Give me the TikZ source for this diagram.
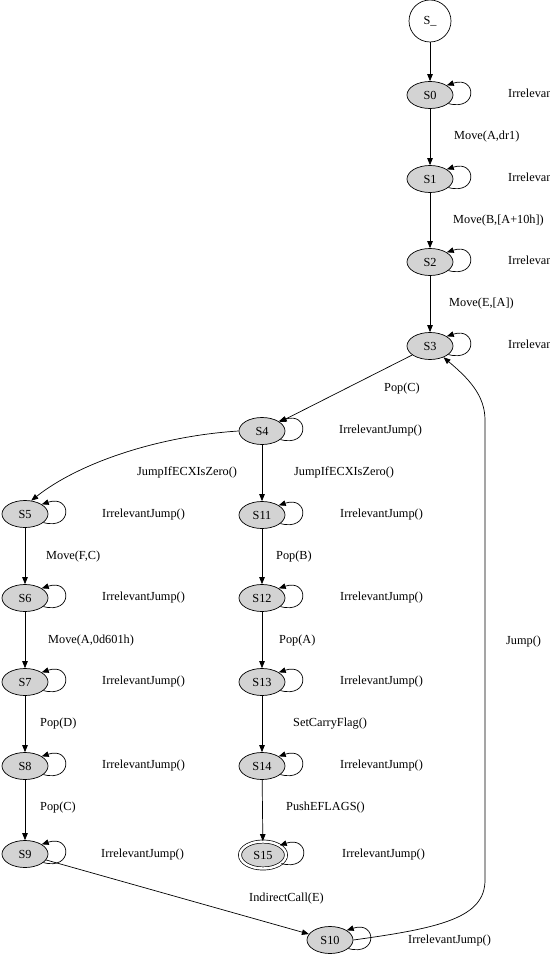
\documentclass[tikz,border=0pt]{standalone}
\usepackage{fontspec}
\setmainfont{Liberation Serif}
\usepackage{tikz}
\usetikzlibrary{shapes.geometric,arrows.meta}
\definecolor{stategray}{HTML}{D3D3D3}

\tikzset{
  every node/.style={font=\fontsize{12.3}{14}\selectfont},
  state/.style={ellipse, draw, fill=stategray, line width=0.7pt,
    minimum width=46pt, minimum height=27pt, inner sep=0pt},
  start/.style={circle, draw, line width=0.7pt, minimum size=42pt, inner sep=0pt},
  accept/.style={state, double, double distance=2.4pt},
  edge/.style={line width=0.7pt, -{Triangle[length=7pt,width=5.5pt]}},
  lbl/.style={anchor=west, inner sep=0pt}
}

\begin{document}
\begin{tikzpicture}[x=1pt, y=-1pt]
    \useasboundingbox (0,0) rectangle (549,957);
    \clip (0,0) rectangle (549,957);

    % states
    \node[start] (sinit) at (430,21) {S\_};
    \node[state] (s0) at (430,95) {S0};
    \node[state] (s1) at (430,179) {S1};
    \node[state] (s2) at (430,262) {S2};
    \node[state] (s3) at (430,346) {S3};
    \node[state] (s4) at (262,431) {S4};
    \node[state] (s5) at (25,514) {S5};
    \node[state] (s6) at (25,598) {S6};
    \node[state] (s7) at (25,682) {S7};
    \node[state] (s8) at (25,766) {S8};
    \node[state] (s9) at (25,854) {S9};
    \node[state] (s11) at (262,515) {S11};
    \node[state] (s12) at (262,598) {S12};
    \node[state] (s13) at (262,682) {S13};
    \node[state] (s14) at (262,766) {S14};
    \node[accept] (s15) at (263,855) {S15};
    \node[state] (s10) at (330,940) {S10};

    % transitions
    \draw[edge] (sinit) -- (s0);
    \draw[edge] (s0) -- (s1);
    \draw[edge] (s1) -- (s2);
    \draw[edge] (s2) -- (s3);
    \draw[edge] (s3) -- (s4);
    \draw[edge] (s4.west) .. controls (160,436) and (80,462) .. (s5.65);
    \draw[edge] (s4) -- (s11);
    \draw[edge] (s5) -- (s6);
    \draw[edge] (s6) -- (s7);
    \draw[edge] (s7) -- (s8);
    \draw[edge] (s8) -- (s9);
    \draw[edge] (s11) -- (s12);
    \draw[edge] (s12) -- (s13);
    \draw[edge] (s13) -- (s14);
    \draw[edge] (s14) -- (s15);
    \draw[edge] (s9) -- (s10);
    \draw[edge] (s10.east) .. controls (440,928) and (485,918) .. (485,880)
      -- (485,420) .. controls (485,395) and (468,378) .. (s3.-40);

    % self loops
    \foreach \s in {s0,s1,s2,s3,s4,s5,s6,s7,s8,s9,s11,s12,s13,s14,s15,s10}
      \draw[edge] (\s.-25) .. controls +(30,8) and +(30,-10) .. (\s.30);

    % edge labels
    \node[lbl] (lmove1) at (454,137) {Move(A,dr1)};
    \node[lbl] (lmove2) at (453,221) {Move(B,[A+10h])};
    \node[lbl] (lmove3) at (449,304) {Move(E,[A])};
    \node[lbl] (lpop1) at (384,389) {Pop(C)};
    \node[lbl] (ljmp1) at (137,472) {JumpIfECXIsZero()};
    \node[lbl] (ljmp2) at (294,472) {JumpIfECXIsZero()};
    \node[lbl] (lmove4) at (46,557) {Move(F,C)};
    \node[lbl] (lmove5) at (48,641) {Move(A,0d601h)};
    \node[lbl] (lpop2) at (40,724) {Pop(D)};
    \node[lbl] (lpop3) at (40,808) {Pop(C)};
    \node[lbl] (lpop4) at (276,557) {Pop(B)};
    \node[lbl] (lpop5) at (279,641) {Pop(A)};
    \node[lbl] (lcarry) at (293,724) {SetCarryFlag()};
    \node[lbl] (lpush) at (286,808) {PushEFLAGS()};
    \node[lbl] (lcall) at (249,899) {IndirectCall(E)};
    \node[lbl] (ljump) at (506,642) {Jump()};

    % loop labels
    \node[lbl] (lirr0) at (508,95) {IrrelevantJump()};
    \node[lbl] (lirr1) at (508,179) {IrrelevantJump()};
    \node[lbl] (lirr2) at (508,262) {IrrelevantJump()};
    \node[lbl] (lirr3) at (508,346) {IrrelevantJump()};
    \node[lbl] (lirr4) at (339,431) {IrrelevantJump()};
    \node[lbl] (lirr5) at (102,515) {IrrelevantJump()};
    \node[lbl] (lirr6) at (102,598) {IrrelevantJump()};
    \node[lbl] (lirr7) at (102,682) {IrrelevantJump()};
    \node[lbl] (lirr8) at (102,766) {IrrelevantJump()};
    \node[lbl] (lirr9) at (101,855) {IrrelevantJump()};
    \node[lbl] (lirr11) at (340,515) {IrrelevantJump()};
    \node[lbl] (lirr12) at (340,598) {IrrelevantJump()};
    \node[lbl] (lirr13) at (340,682) {IrrelevantJump()};
    \node[lbl] (lirr14) at (340,766) {IrrelevantJump()};
    \node[lbl] (lirr15) at (342,855) {IrrelevantJump()};
    \node[lbl] (lirr10) at (408,941) {IrrelevantJump()};

\end{tikzpicture}
\end{document}
